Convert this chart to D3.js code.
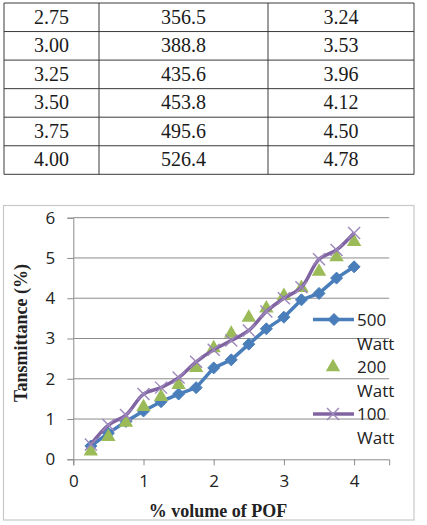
<!DOCTYPE html>
<html>
<head>
<meta charset="utf-8">
<script src="https://cdn.jsdelivr.net/npm/d3@7/dist/d3.min.js"></script>
<style>
  html, body { margin: 0; padding: 0; background: #fff; }
  svg { display: block; }
  .serif { font-family: "Liberation Serif", "Times New Roman", serif; }
  .sans { font-family: "Open Sans", "Liberation Sans", sans-serif; }
</style>
</head>
<body>
<svg id="c" width="427" height="525"></svg>
<script>
// ---------- data ----------
const tableCol1 = ["2.75", "3.00", "3.25", "3.50", "3.75", "4.00"];
const tableCol2 = ["356.5", "388.8", "435.6", "453.8", "495.6", "526.4"];
const tableCol3 = ["3.24", "3.53", "3.96", "4.12", "4.50", "4.78"];

const xValues = [0.25, 0.5, 0.75, 1.0, 1.25, 1.5, 1.75, 2.0, 2.25, 2.5, 2.75, 3.0, 3.25, 3.5, 3.75, 4.0];
const watt500 = [0.33, 0.65, 0.94, 1.2, 1.43, 1.62, 1.78, 2.27, 2.47, 2.86, 3.24, 3.53, 3.96, 4.12, 4.50, 4.78];
const watt200 = [0.2, 0.56, 0.91, 1.3, 1.55, 1.85, 2.27, 2.76, 3.12, 3.52, 3.75, 4.06, 4.26, 4.66, 5.02, 5.4];
const watt100 = [0.37, 0.85, 1.1, 1.62, 1.78, 2.03, 2.42, 2.72, 2.95, 3.2, 3.67, 4.0, 4.27, 4.97, 5.2, 5.62];

const seriesNames = ["500", "200", "100"];
const seriesUnit = "Watt";
const xTicks = [0, 1, 2, 3, 4];
const yTicks = [0, 1, 2, 3, 4, 5, 6];
const xTitle = "% volume of POF";
const yTitle = "Tansmittance (%)";

// ---------- drawing ----------
const svg = d3.select("#c");

// Table
const tableLeft = 4, tableRight = 414, tableTop = 3, rowH = 28.55;
const colEdges = [tableLeft, 99, 268, tableRight];
const cols = [tableCol1, tableCol2, tableCol3];
const nRows = tableCol1.length;
const tg = svg.append("g");
const yRow = d3.scaleLinear().domain([0, nRows]).range([tableTop, tableTop + rowH * nRows]);
for (let r = 0; r <= nRows; r++) {
  tg.append("line").attr("x1", tableLeft).attr("x2", tableRight)
    .attr("y1", yRow(r)).attr("y2", yRow(r))
    .attr("stroke", "#3a3a3a").attr("stroke-width", 1);
}
colEdges.forEach(x => {
  tg.append("line").attr("x1", x).attr("x2", x)
    .attr("y1", yRow(0)).attr("y2", yRow(nRows))
    .attr("stroke", "#3a3a3a").attr("stroke-width", 1);
});
cols.forEach((col, ci) => {
  const cx = (colEdges[ci] + colEdges[ci + 1]) / 2;
  tg.selectAll(null).data(col).enter().append("text")
    .attr("class", "serif")
    .attr("x", cx)
    .attr("y", (d, i) => yRow(i) + 20.5)
    .attr("text-anchor", "middle")
    .style("font-size", "20px")
    .attr("fill", "#1a1a1a")
    .text(d => d);
});

// Chart frame
svg.append("rect").attr("x", 3.5).attr("y", 205.5).attr("width", 410.5).attr("height", 314.5)
  .attr("fill", "#fff").attr("stroke", "#c8c8c8").attr("stroke-width", 1.2);

const x = d3.scaleLinear().domain([0, 4.5]).range([73.3, 389.2]);
const y = d3.scaleLinear().domain([0, 6]).range([459.3, 217.7]);

const gridColor = "#8c8c8c";

// gridlines
svg.append("g").selectAll("line").data(yTicks.slice(1)).enter().append("line")
  .attr("x1", x(0)).attr("x2", x(4.5))
  .attr("y1", d => y(d)).attr("y2", d => y(d))
  .attr("stroke", gridColor).attr("stroke-width", 1);

// y axis
const yAxis = svg.append("g").attr("transform", `translate(${x(0)},0)`)
  .call(d3.axisLeft(y).tickValues(yTicks).tickSize(6).tickPadding(12).tickFormat(d3.format("d")));
yAxis.attr("font-family", null);
yAxis.select(".domain").attr("stroke", gridColor);
yAxis.selectAll(".tick line").attr("stroke", gridColor);
yAxis.selectAll(".tick text").attr("class", "sans").style("font-size", "17px").attr("fill", "#222");

// x axis
const xAxis = svg.append("g").attr("transform", `translate(0,${y(0)})`)
  .call(d3.axisBottom(x).tickValues(xTicks).tickSize(6).tickPadding(10).tickFormat(d3.format("d")));
xAxis.attr("font-family", null);
xAxis.select(".domain").attr("stroke", gridColor);
xAxis.selectAll(".tick line").attr("stroke", gridColor);
xAxis.selectAll(".tick text").attr("class", "sans").style("font-size", "17px").attr("fill", "#222");

// axis titles
svg.append("text").attr("class", "serif")
  .attr("transform", `translate(27,333) rotate(-90)`)
  .attr("text-anchor", "middle")
  .attr("font-weight", "bold").style("font-size", "18px").attr("fill", "#222")
  .text(yTitle);
svg.append("text").attr("class", "serif")
  .attr("x", 218).attr("y", 516.5)
  .attr("text-anchor", "middle")
  .attr("font-weight", "bold").style("font-size", "18px").attr("fill", "#222")
  .text(xTitle);

const blue = "#4a7ebb", green = "#9bbb59", purple = "#8064a2", purpleLight = "#9d87bb";

const pts = vals => xValues.map((xv, i) => [xv, vals[i]]);

// series 500 (blue line + diamonds)
const line = d3.line().x(d => x(d[0])).y(d => y(d[1]));
svg.append("path").datum(pts(watt500)).attr("d", line)
  .attr("fill", "none").attr("stroke", blue).attr("stroke-width", 3.5).attr("stroke-linejoin", "round");
const ds = 6;
const diamondPath = `M0,${-ds}L${ds},0L0,${ds}L${-ds},0Z`;
svg.append("g").selectAll("path").data(pts(watt500)).enter().append("path")
  .attr("d", diamondPath)
  .attr("transform", d => `translate(${x(d[0])},${y(d[1])})`)
  .attr("fill", blue).attr("stroke", blue).attr("stroke-width", 1);

// series 200 (green triangles, no line)
const tri = d3.symbol().type(d3.symbolTriangle).size(90);
svg.append("g").selectAll("path").data(pts(watt200)).enter().append("path")
  .attr("d", tri)
  .attr("transform", d => `translate(${x(d[0])},${y(d[1])})`)
  .attr("fill", green);

// series 100 (purple smooth line + x markers)
const smooth = d3.line().x(d => x(d[0])).y(d => y(d[1])).curve(d3.curveCatmullRom.alpha(0.5));
svg.append("path").datum(pts(watt100)).attr("d", smooth)
  .attr("fill", "none").attr("stroke", purple).attr("stroke-width", 3.5).attr("stroke-linejoin", "round");
const xs = 6;
const xMark = g => {
  g.append("line").attr("x1", -xs).attr("y1", -xs).attr("x2", xs).attr("y2", xs);
  g.append("line").attr("x1", -xs).attr("y1", xs).attr("x2", xs).attr("y2", -xs);
};
svg.append("g").selectAll("g").data(pts(watt100)).enter().append("g")
  .attr("transform", d => `translate(${x(d[0])},${y(d[1])})`)
  .attr("stroke", purpleLight).attr("stroke-width", 1.4)
  .each(function () { xMark(d3.select(this)); });

// legend
const lg = svg.append("g");
const legendRows = [325.7, 373.3, 420.2];
const markerY = [319.5, 367, 414];
// 500
lg.append("line").attr("x1", 313).attr("x2", 354).attr("y1", markerY[0]).attr("y2", markerY[0])
  .attr("stroke", blue).attr("stroke-width", 3.5);
lg.append("path").attr("d", diamondPath).attr("transform", `translate(334,${markerY[0]})`)
  .attr("fill", blue).attr("stroke", blue);
// 200
lg.append("path").attr("d", tri).attr("transform", `translate(333,${markerY[1]})`).attr("fill", green);
// 100
lg.append("line").attr("x1", 313).attr("x2", 354).attr("y1", markerY[2]).attr("y2", markerY[2])
  .attr("stroke", purple).attr("stroke-width", 3.5);
lg.append("g").attr("transform", `translate(333,${markerY[2]})`)
  .attr("stroke", purpleLight).attr("stroke-width", 1.4).call(xMark);

seriesNames.forEach((name, i) => {
  lg.append("text").attr("class", "sans").attr("x", 357).attr("y", legendRows[i])
    .style("font-size", "17px").attr("fill", "#222").text(name);
  lg.append("text").attr("class", "sans").attr("x", 357).attr("y", legendRows[i] + 24)
    .style("font-size", "17px").attr("fill", "#222").text(seriesUnit);
});
</script>
</body>
</html>
